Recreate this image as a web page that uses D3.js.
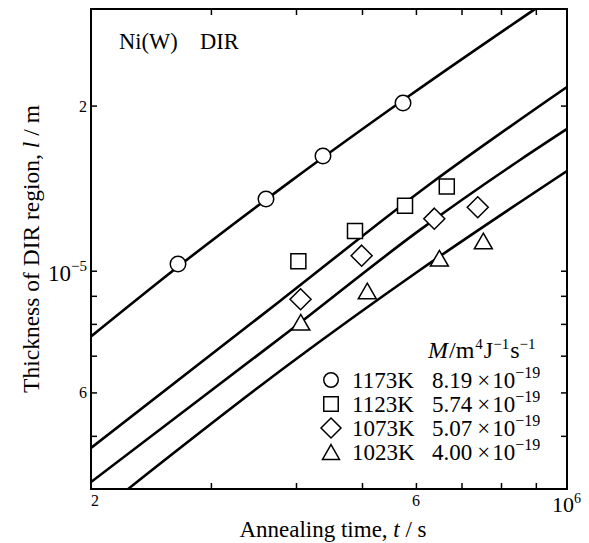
<!DOCTYPE html>
<html><head><meta charset="utf-8">
<script src="https://cdn.jsdelivr.net/npm/d3@7"></script>
<style>
body{margin:0;background:#fff}
svg{display:block}
text{font-family:"Liberation Serif","Times New Roman",serif;fill:#000}
</style>
</head><body>
<svg id="c" width="589" height="543"></svg>
<script>
// ---- data ----
const xDomain = [2e5, 1e6];
const yDomain = [4e-6, 3e-5];
const xTicks = [3e5, 4e5, 5e5, 6e5, 7e5, 8e5, 9e5];
const yTicks = [5e-6, 6e-6, 7e-6, 8e-6, 9e-6, 1e-5, 2e-5];
const xTickLabels = [{v: 2e5, t: "2"}, {v: 6e5, t: "6"}];
const xTickExp = {v: 1e6, base: "10", exp: "6"};
const yTickLabels = [{v: 2e-5, t: "2"}, {v: 6e-6, t: "6"}];
const yTickExp = {v: 1e-5, base: "10", exp: "\u22125"};

const temps = ["1173K", "1123K", "1073K", "1023K"];
const mobility = ["8.19", "5.74", "5.07", "4.00"];
const mobilityExp = "\u221219";
const symbols = ["circle", "square", "diamond", "triangle"];

// measured points: annealing time t (s), thickness l (m)
const t1173 = [2.684e5, 3.614e5, 4.382e5, 5.744e5];
const l1173 = [1.0288e-5, 1.3516e-5, 1.6187e-5, 2.0221e-5];
const t1123 = [4.032e5, 4.883e5, 5.783e5, 6.660e5];
const l1123 = [1.0405e-5, 1.1815e-5, 1.3141e-5, 1.4239e-5];
const t1073 = [4.062e5, 4.994e5, 6.385e5, 7.395e5];
const l1073 = [8.870e-6, 1.0652e-5, 1.2442e-5, 1.3053e-5];
const t1023 = [4.065e5, 5.090e5, 6.495e5, 7.536e5];
const l1023 = [8.054e-6, 9.184e-6, 1.0536e-5, 1.1329e-5];

// calculated curves
const ft1173 = [2.0e5, 2.684e5, 3.921e5, 5.881e5, 8.975e5];
const fl1173 = [7.59e-6, 1.017e-5, 1.4535e-5, 2.0886e-5, 3.0e-5];
const ft1123 = [2.0e5, 3.790e5, 6.293e5, 1.0e6];
const fl1123 = [4.751e-6, 8.807e-6, 1.4390e-5, 2.1625e-5];
const ft1073 = [2.0e5, 3.894e5, 6.083e5, 8.531e5, 1.0e6];
const fl1073 = [4.119e-6, 7.729e-6, 1.1868e-5, 1.5918e-5, 1.8132e-5];
const ft1023 = [2.267e5, 3.894e5, 6.083e5, 1.0e6];
const fl1023 = [4.0e-6, 6.732e-6, 1.0031e-5, 1.5200e-5];

const pointSets = [[t1173, l1173], [t1123, l1123], [t1073, l1073], [t1023, l1023]];
const curveSets = [[ft1173, fl1173], [ft1123, fl1123], [ft1073, fl1073], [ft1023, fl1023]];

// ---- layout ----
const L = 91, R = 567, T = 9, B = 489;
const svg = d3.select("#c");
const x = d3.scaleLog().domain(xDomain).range([L, R]);
const y = d3.scaleLog().domain(yDomain).range([B, T]);

svg.append("defs").append("clipPath").attr("id", "clip")
  .append("rect").attr("x", L).attr("y", T).attr("width", R - L).attr("height", B - T);

// axes with inward ticks on all sides
function styleAxis(g) {
  g.select(".domain").remove();
  g.selectAll(".tick line").attr("stroke", "#000").attr("stroke-width", 1.5);
  g.selectAll(".tick text").remove();
}
svg.append("g").attr("transform", `translate(0,${B})`)
  .call(d3.axisBottom(x).tickValues(xTicks).tickSize(-6).tickFormat(""))
  .call(styleAxis);
svg.append("g").attr("transform", `translate(0,${T})`)
  .call(d3.axisTop(x).tickValues(xTicks).tickSize(-6).tickFormat(""))
  .call(styleAxis);
svg.append("g").attr("transform", `translate(${L},0)`)
  .call(d3.axisLeft(y).tickValues(yTicks).tickSize(-6).tickFormat(""))
  .call(styleAxis);
svg.append("g").attr("transform", `translate(${R},0)`)
  .call(d3.axisRight(y).tickValues(yTicks).tickSize(-6).tickFormat(""))
  .call(styleAxis);

svg.append("rect").attr("x", L).attr("y", T).attr("width", R - L).attr("height", B - T)
  .attr("fill", "none").attr("stroke", "#000").attr("stroke-width", 2);

// tick labels
svg.selectAll(".xtl").data(xTickLabels).join("text")
  .attr("x", d => x(d.v) + (d.v === xDomain[0] ? 4 : 0)).attr("y", B + 17)
  .attr("text-anchor", "middle").attr("font-size", 16).text(d => d.t);
{
  const t = svg.append("text").attr("x", x(xTickExp.v) - 15).attr("y", B + 22.5).attr("font-size", 22);
  t.append("tspan").text(xTickExp.base);
  t.append("tspan").attr("dy", -9).attr("font-size", 14).text(xTickExp.exp);
}
svg.selectAll(".ytl").data(yTickLabels).join("text")
  .attr("x", L - 4).attr("y", d => y(d.v) + 6)
  .attr("text-anchor", "end").attr("font-size", 16).text(d => d.t);
{
  const t = svg.append("text").attr("x", L - 43).attr("y", y(yTickExp.v) + 10.5).attr("font-size", 23);
  t.append("tspan").text(yTickExp.base);
  t.append("tspan").attr("dy", -10).attr("font-size", 15).text(yTickExp.exp);
}

// axis titles
{
  const t = svg.append("text").attr("x", 333).attr("y", 537)
    .attr("text-anchor", "middle").attr("font-size", 23);
  t.append("tspan").text("Annealing time, ");
  t.append("tspan").attr("font-style", "italic").text("t");
  t.append("tspan").text(" / s");
}
{
  const t = svg.append("text").attr("transform", `translate(39,${(T + B) / 2}) rotate(-90)`)
    .attr("text-anchor", "middle").attr("font-size", 23.5);
  t.append("tspan").text("Thickness of DIR region, ");
  t.append("tspan").attr("font-style", "italic").text("l");
  t.append("tspan").text(" / m");
}

// title
svg.append("text").attr("x", 119).attr("y", 49).attr("font-size", 22.5).text("Ni(W)");
svg.append("text").attr("x", 200).attr("y", 49).attr("font-size", 22.5).text("DIR");

// curves
const line = d3.line().x(d => x(d[0])).y(d => y(d[1])).curve(d3.curveMonotoneX);
svg.append("g").attr("clip-path", "url(#clip)")
  .selectAll("path").data(curveSets).join("path")
  .attr("d", s => line(s[0].map((v, i) => [v, s[1][i]])))
  .attr("fill", "none").attr("stroke", "#000").attr("stroke-width", 2.6);

// marker shapes (centered on bounding box)
function shape(kind, s) {
  const h = s / 2;
  if (kind === "circle") return `M${h},0A${h},${h} 0 1,1 ${-h},0A${h},${h} 0 1,1 ${h},0Z`;
  if (kind === "square") return `M${-h},${-h}H${h}V${h}H${-h}Z`;
  if (kind === "diamond") return `M0,${-h}L${h},0L0,${h}L${-h},0Z`;
  const th = s * 0.87 / 2;
  return `M0,${-th}L${h},${th}L${-h},${th}Z`;
}
const markerSize = {circle: 15.5, square: 15, diamond: 21, triangle: 18};
const legendSize = {circle: 14.5, square: 14.5, diamond: 20, triangle: 17};

pointSets.forEach((s, k) => {
  svg.append("g").selectAll("path").data(s[0].map((v, i) => [v, s[1][i]])).join("path")
    .attr("transform", d => `translate(${x(d[0])},${y(d[1])})`)
    .attr("d", shape(symbols[k], markerSize[symbols[k]]))
    .attr("fill", "#fff").attr("stroke", "#000").attr("stroke-width", 1.5);
});

// legend
{
  const h = svg.append("text").attr("x", 428).attr("y", 358).attr("font-size", 24);
  h.append("tspan").attr("font-style", "italic").text("M");
  h.append("tspan").attr("dx", 1).text("/m");
  h.append("tspan").attr("dy", -9).attr("dx", 1).attr("font-size", 15).text("4");
  h.append("tspan").attr("dy", 9).attr("dx", 1).text("J");
  h.append("tspan").attr("dy", -9).attr("font-size", 15).text("\u22121");
  h.append("tspan").attr("dy", 9).attr("dx", 1).text("s");
  h.append("tspan").attr("dy", -9).attr("font-size", 15).text("\u22121");
}
const rowY = d3.scalePoint().domain(temps).range([380, 452]);
temps.forEach((tp, k) => {
  const cy = rowY(tp);
  svg.append("path").attr("transform", `translate(331,${cy})`)
    .attr("d", shape(symbols[k], legendSize[symbols[k]]))
    .attr("fill", "#fff").attr("stroke", "#000").attr("stroke-width", 1.5);
  svg.append("text").attr("x", 352).attr("y", cy + 8).attr("font-size", 23).text(tp);
  const t = svg.append("text").attr("x", 432).attr("y", cy + 8).attr("font-size", 23);
  t.append("tspan").text(mobility[k]);
  t.append("tspan").attr("dx", 5).text("\u00d7");
  t.append("tspan").attr("dx", 2).text("10");
  t.append("tspan").attr("dy", -10).attr("font-size", 16).text(mobilityExp);
});
</script>
</body></html>
